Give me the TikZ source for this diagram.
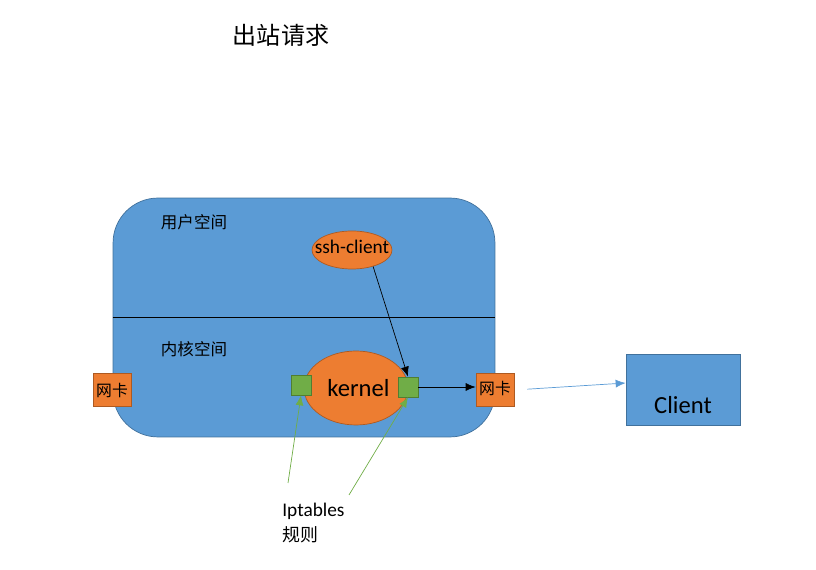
\documentclass[tikz,border=0pt]{standalone}
\usepackage{fontspec}
\setmainfont{Carlito}
\newfontfamily\cjk{Noto Sans CJK SC}
\usepackage{tikz}
\usetikzlibrary{shapes.geometric, arrows.meta, positioning}

\definecolor{boxblue}{HTML}{5B9BD5}
\definecolor{edgeblue}{HTML}{41719C}
\definecolor{nicorange}{HTML}{ED7D31}
\definecolor{edgeorange}{HTML}{AE5A21}
\definecolor{rulegreen}{HTML}{70AD47}
\definecolor{edgegreen}{HTML}{507E32}

\begin{document}
\begin{tikzpicture}[
    x=0.02cm, y=-0.02cm,
    host/.style={rectangle, rounded corners=0.9cm, draw=edgeblue, fill=boxblue, minimum width=7.64cm, minimum height=4.78cm},
    proc/.style={ellipse, draw=edgeorange, fill=nicorange, inner sep=0pt},
    nic/.style={rectangle, draw=edgeorange, fill=nicorange, minimum width=0.76cm, minimum height=0.66cm, inner sep=0pt, font=\cjk\fontsize{9}{10}\selectfont},
    hook/.style={rectangle, draw=edgegreen, fill=rulegreen, minimum size=0.4cm, inner sep=0pt},
    peer/.style={rectangle, draw=edgeblue, fill=boxblue, minimum width=2.28cm, minimum height=1.42cm},
    zone/.style={font=\cjk\fontsize{9.4}{11}\selectfont},
    arr/.style={-{Latex[length=2mm, width=1.6mm]}, black},
    link/.style={-{Latex[length=2mm, width=1.6mm]}, boxblue},
    rule/.style={-{Latex[length=2mm, width=1.6mm]}, rulegreen}
]
\useasboundingbox (0,0) rectangle (816,570);

\node[font=\cjk\fontsize{13.7}{16}\selectfont] (title) at (281,35) {出站请求};

\node[host] (host) at (304,317.5) {};
\draw[black] (host.west) -- (host.east);
\node[zone] (user) at (194,222) {用户空间};
\node[zone] (kspace) at (194,349) {内核空间};

\node[proc, minimum width=1.6cm, minimum height=0.76cm,
      label={[font=\fontsize{11}{13}\selectfont, yshift=0.06cm]center:ssh-client}] (ssh) at (352,250) {};
\node[proc, minimum width=2.08cm, minimum height=1.48cm, font=\fontsize{14}{16}\selectfont] (kernel) at (356,388) {\hspace{0.1cm}kernel};
\node[hook] (kL) at (301,385) {};
\node[hook] (kR) at (408,387) {};

\node[nic] (nicL) at (112,390) {网卡};
\node[nic] (nicR) at (495,390) {\raisebox{0.1cm}{网卡}};

\node[peer] (client) at (683,390) {};
\node[font=\fontsize{14}{16}\selectfont] (clientlbl) at (683,405) {Client};

\draw[arr] (ssh.-38) -- (kR.north);
\draw[arr] (kR.east) -- (kR.east -| nicR.west);
\draw[link, shorten <=0.26cm] (nicR.east) -- ([yshift=0.14cm]client.west);

\coordinate (ipL) at (288,483);
\coordinate (ipR) at (349,495);
\draw[rule] (ipL) -- (kL.south);
\draw[rule] (ipR) -- (kR.south);

\node[anchor=north west, align=left, inner sep=0pt, font=\fontsize{11}{14}\selectfont] (ipt) at (282,503) {Iptables\\{\cjk\fontsize{10.2}{14}\selectfont 规则}};

\end{tikzpicture}
\end{document}
